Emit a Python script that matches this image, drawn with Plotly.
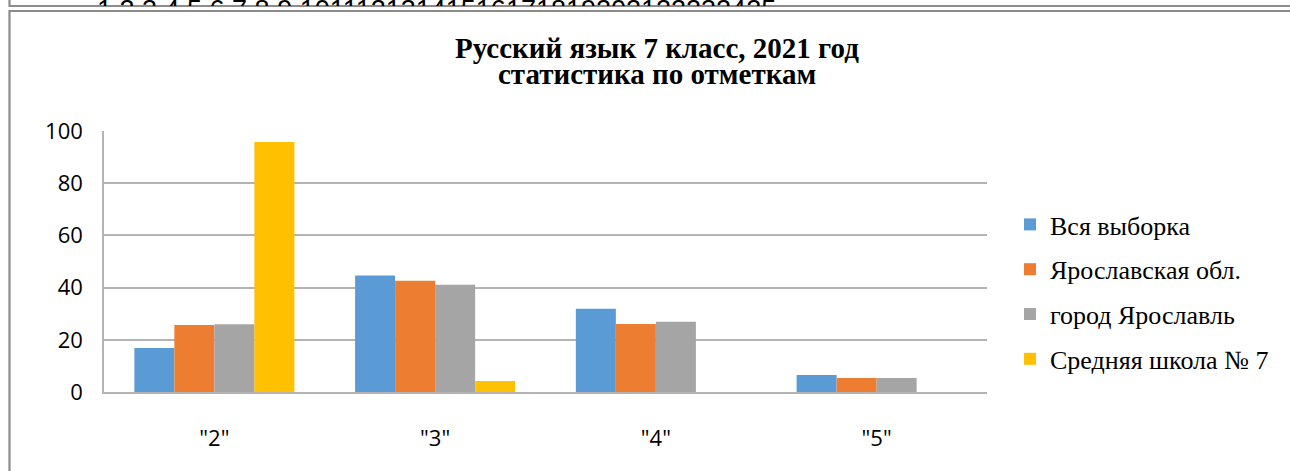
import plotly.graph_objects as go

# ---- data ----
categories = ['"2"', '"3"', '"4"', '"5"']
series_names = ["Вся выборка", "Ярославская обл.", "город Ярославль", "Средняя школа № 7"]
vsya_vyborka = [16.9, 44.6, 31.9, 6.5]
yar_obl = [25.7, 42.6, 26.1, 5.4]
gorod_yar = [26.0, 41.1, 26.9, 5.4]
shkola_7 = [95.8, 4.2, 0, 0]
y_ticks = [0, 20, 40, 60, 80, 100]
title_line1 = "Русский язык 7 класс, 2021 год"
title_line2 = "статистика по отметкам"
top_strip_text = "1 2 3 4 5 6 7 8 9 10111213141516171819202122232425"

colors = ["#5B9BD5", "#ED7D31", "#A5A5A5", "#FFC000"]
series_values = [vsya_vyborka, yar_obl, gorod_yar, shkola_7]

W, H = 1290, 471
ml, mr, mt, mb = 104, 303, 131, 79


def px(x):
    return (x - ml) / (W - ml - mr)


def py(y):
    return (H - mb - y) / (H - mt - mb)


fig = go.Figure()
for i, (name, vals) in enumerate(zip(series_names, series_values)):
    fig.add_trace(go.Bar(
        x=categories, y=vals, name=name,
        marker=dict(color=colors[i], line=dict(width=0)),
        legendgroup=f"g{i}",
    ))

frame_color = "#8C8C8C"
grid_color = "#B3B3B3"

fig.update_layout(
    width=W, height=H,
    margin=dict(l=ml, r=mr, t=mt, b=mb, pad=0),
    paper_bgcolor="white", plot_bgcolor="white",
    barmode="group", bargap=0.275, bargroupgap=0,
    font=dict(family="Open Sans", size=22, color="#000000"),
    showlegend=True,
    legend=dict(
        x=px(1010), xanchor="left", y=py(201), yanchor="top",
        font=dict(family="Liberation Serif", size=26, color="#000000"),
        bgcolor="rgba(0,0,0,0)", tracegroupgap=8, traceorder="grouped",
    ),
    xaxis=dict(
        showgrid=False, showline=True, linecolor=grid_color, linewidth=1.5,
        ticks="", ticklabelstandoff=26, tickfont=dict(family="Open Sans", size=22),
    ),
    yaxis=dict(
        range=[0, 100], tickvals=y_ticks, showgrid=True, gridcolor=grid_color, gridwidth=1.5,
        showline=True, linecolor=grid_color, linewidth=1.5, zeroline=False,
        ticks="", ticklabelstandoff=15, tickfont=dict(family="Open Sans", size=22),
    ),
)

annotations = [
    dict(text=top_strip_text, xref="paper", yref="paper", x=px(96), y=py(-6),
         xanchor="left", yanchor="top", showarrow=False, height=11, valign="top",
         borderpad=0, font=dict(family="Liberation Sans", size=27, color="#000000")),
    dict(text="<b>" + title_line1 + "</b>", xref="paper", yref="paper", x=px(657), y=py(65),
         xanchor="center", yanchor="bottom", showarrow=False, borderpad=0,
         font=dict(family="Liberation Serif", size=29, color="#000000")),
    dict(text="<b>" + title_line2 + "</b>", xref="paper", yref="paper", x=px(657), y=py(91),
         xanchor="center", yanchor="bottom", showarrow=False, borderpad=0,
         height=24, valign="bottom",
         font=dict(family="Liberation Serif", size=29, color="#000000")),
]
fig.update_layout(annotations=annotations)

shapes = [
    dict(type="rect", xref="paper", yref="paper", x0=px(9.5), x1=px(1310), y0=py(-30), y1=py(6),
         line=dict(color=frame_color, width=2.2), fillcolor="rgba(0,0,0,0)", layer="above"),
    dict(type="rect", xref="paper", yref="paper", x0=px(9.5), x1=px(1310), y0=py(11), y1=py(500),
         line=dict(color=frame_color, width=2.2), fillcolor="rgba(0,0,0,0)", layer="above"),
]
fig.update_layout(shapes=shapes)

fig.write_html("out.html", config={"displayModeBar": False},
               post_script="document.body.style.margin='0';")
